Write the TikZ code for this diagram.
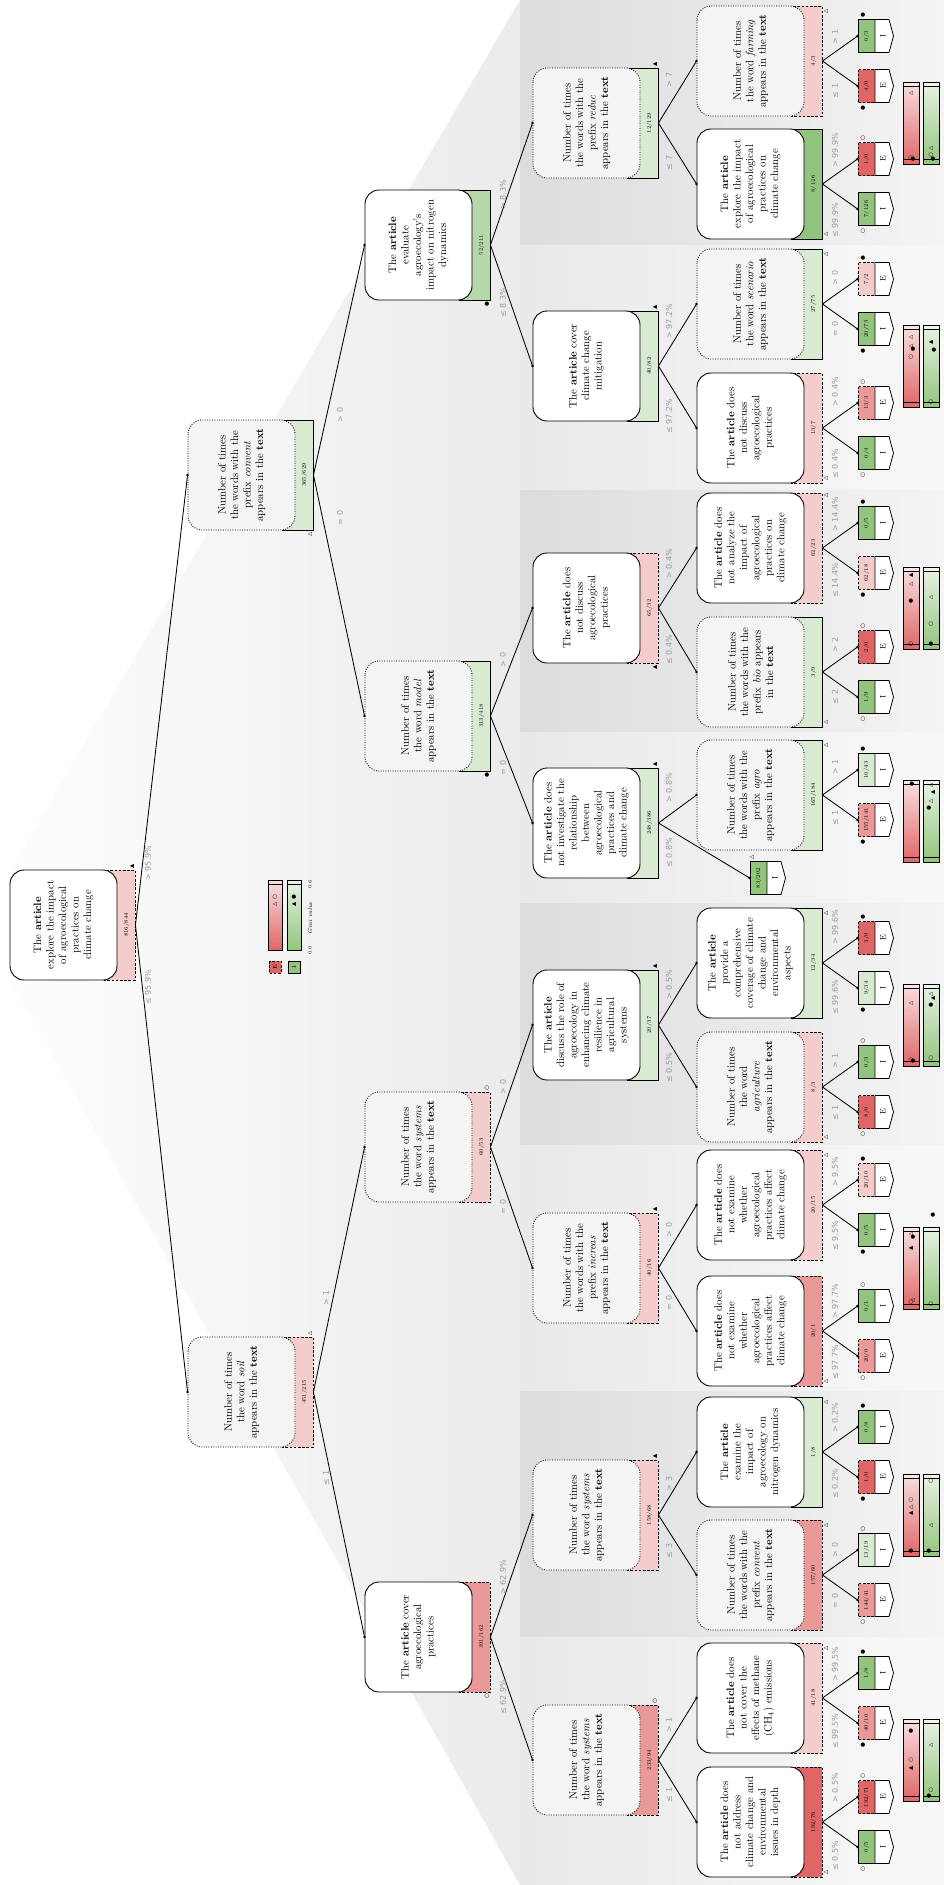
\documentclass[tikz,border=0pt]{standalone}
\usepackage{fontspec}
\newfontfamily\symf{DejaVu Sans}
\definecolor{redS}{HTML}{E06666}
\definecolor{redM}{HTML}{EA9999}
\definecolor{redL}{HTML}{F4CCCC}
\definecolor{grnS}{HTML}{93C47D}
\definecolor{grnM}{HTML}{B6D7A8}
\definecolor{grnL}{HTML}{D9EAD3}
\definecolor{lblgray}{HTML}{9A9A9A}
\definecolor{dotfill}{HTML}{F4F4F4}
\definecolor{panDa}{HTML}{DCDCDC}
\definecolor{panDb}{HTML}{F4F4F4}
\definecolor{panLa}{HTML}{E9E9E9}
\definecolor{panLb}{HTML}{F8F8F8}
\definecolor{fanA}{HTML}{FDFDFD}
\definecolor{fanB}{HTML}{EBEBEB}
\newcounter{aux}
\newcommand{\inode}[8]{%
  \node[barbox,fill=#5,#6] (#1b) at ({#2+109.5},#3) {};
  \node[#4] (#1) at ({#2+53.5},#3) {#8};
  \node[cnt] (#1c) at ({#2+116.5},#3) {#7};}
\newcommand{\leafn}[7]{%
  \node[leafc,fill=#4,#5] (#1) at ({#2+8.5},#3) {};
  \node[cnt] (#1c) at ({#2+8.5},#3) {#6};
  \draw[line width=0.8pt,fill=white] ({#2+17},{#3-16.5}) -- ({#2+31},{#3-16.5}) -- ({#2+35.5},#3) -- ({#2+31},{#3+16.5}) -- ({#2+17},{#3+16.5}) -- cycle;
  \node[rotate=90,inner sep=0pt,font=\fontsize{8}{9}\selectfont] (#1t) at ({#2+25},#3) {#7};}
\newcommand{\conn}[2]{\draw[edge] (#1b.south) -- (#2.north); \fill (#2.north) circle (1.4pt);}
\newcommand{\elab}[3]{\stepcounter{aux}\node[elabel] (el\arabic{aux}) at (#1,#2) {#3};}
\newcommand{\mkr}[3]{\stepcounter{aux}\node[mk] (mk\arabic{aux}) at (#1,#2) {#3};}
\newcommand{\TF}{▲}
\newcommand{\TO}{△}
\newcommand{\CF}{●}
\newcommand{\CO}{○}
\newcommand{\gini}[1]{%
  \shade[top color=redL!60!white, bottom color=redS] (903,{#1-41}) rectangle (919,{#1+41});
  \fill[redL!50!white] (903,{#1-41}) rectangle (919,{#1-37});
  \draw[line width=0.7pt] (903,{#1-41}) rectangle (919,{#1+41});
  \draw[line width=0.6pt] (903,{#1-37}) -- (919,{#1-37});
  \draw[line width=0.9pt] (903,{#1+36}) -- (919,{#1+36});
  \shade[top color=grnL!60!white, bottom color=grnS] (923,{#1-41}) rectangle (939,{#1+41});
  \fill[grnL!50!white] (923,{#1-41}) rectangle (939,{#1-37});
  \draw[line width=0.7pt] (923,{#1-41}) rectangle (939,{#1+41});
  \draw[line width=0.6pt] (923,{#1-37}) -- (939,{#1-37});
  \draw[line width=0.9pt] (923,{#1+36}) -- (939,{#1+36});}
\begin{document}
\begin{tikzpicture}[x=1pt,y=-1pt,
  tb/.style={rotate=90, line width=0.9pt, rounded corners=14pt, minimum width=110pt, minimum height=107pt, inner sep=2pt, align=center, font=\fontsize{10.8}{12.5}\selectfont},
  sbox/.style={tb, draw=black, fill=white},
  dbox/.style={tb, draw=black, fill=dotfill, dash pattern=on 0.9pt off 1.5pt},
  barbox/.style={rotate=90, draw=black, line width=0.9pt, minimum width=110pt, minimum height=31pt, inner sep=0pt},
  sbar/.style={solid},
  dbar/.style={dash pattern=on 2.6pt off 1.6pt},
  cnt/.style={rotate=90, inner sep=0pt, font=\fontsize{5.5}{6}\selectfont},
  leafc/.style={rotate=90, draw=black, line width=0.8pt, minimum width=33pt, minimum height=17pt, inner sep=0pt},
  edge/.style={line width=0.85pt},
  elabel/.style={rotate=90, inner sep=0pt, text=lblgray, font=\symf\fontsize{8}{9}\selectfont},
  mk/.style={rotate=90, inner sep=0pt, font=\symf\fontsize{5.5}{6}\selectfont},
]
\useasboundingbox (0,0) rectangle (944,1885);
\fill[white] (0,0) rectangle (944,1885);
% fan
\shade[left color=fanA, right color=fanB] (10,870) -- (520,0) -- (520,1885) -- (10,980) -- cycle;
% panels
\shade[left color=panDa, right color=panDb] (520,0) rectangle (944,245);
\shade[left color=panLa, right color=panLb] (520,245) rectangle (944,490);
\shade[left color=panDa, right color=panDb] (520,490) rectangle (944,732);
\shade[left color=panLa, right color=panLb] (520,732) rectangle (944,903);
\shade[left color=panDa, right color=panDb] (520,903) rectangle (944,1145);
\shade[left color=panLa, right color=panLb] (520,1145) rectangle (944,1391);
\shade[left color=panDa, right color=panDb] (520,1391) rectangle (944,1637);
\shade[left color=panLa, right color=panLb] (520,1637) rectangle (944,1885);

% level 0-2
\inode{R}{10}{925}{sbox}{redL}{dbar}{816/844}{The \textbf{article}\\explore the impact\\of agroecological\\practices on\\climate change}
\inode{A1}{188}{475}{dbox}{grnL}{sbar}{365/629}{Number of times\\the words with the\\prefix \textit{convent}\\appears in the \textbf{text}}
\inode{A2}{188}{1392}{dbox}{redL}{dbar}{451/215}{Number of times\\the word \textit{soil}\\appears in the \textbf{text}}
\inode{B1}{365}{245}{sbox}{grnM}{sbar}{52/211}{The \textbf{article}\\evaluate\\agroecology's\\impact on nitrogen\\dynamics}
\inode{B2}{365}{716}{dbox}{grnL}{sbar}{313/418}{Number of times\\the word \textit{model}\\appears in the \textbf{text}}
\inode{B3}{365}{1147}{dbox}{redL}{dbar}{60/53}{Number of times\\the word \textit{systems}\\appears in the \textbf{text}}
\inode{B4}{365}{1637}{sbox}{redM}{dbar}{391/162}{The \textbf{article} cover\\agroecological\\practices}
% level 3
\inode{P1}{533}{123}{dbox}{grnL}{sbar}{12/129}{Number of times\\the words with the\\prefix \textit{reduc}\\appears in the \textbf{text}}
\inode{P2}{533}{366}{sbox}{grnL}{sbar}{40/82}{The \textbf{article} cover\\climate change\\mitigation}
\inode{P3}{533}{608}{sbox}{redL}{dbar}{65/32}{The \textbf{article} does\\not discuss\\agroecological\\practices}
\inode{P4}{533}{823}{sbox}{grnL}{sbar}{248/386}{The \textbf{article} does\\not investigate the\\relationship\\between\\agroecological\\practices and\\climate change}
\inode{P5}{533}{1025}{sbox}{grnL}{sbar}{20/37}{The \textbf{article}\\discuss the role of\\agroecology in\\enhancing climate\\resilience in\\agricultural\\systems}
\inode{P6}{533}{1268}{dbox}{redL}{dbar}{40/16}{Number of times\\the words with the\\prefix \textit{increas}\\appears in the \textbf{text}}
\inode{P7}{533}{1515}{dbox}{redL}{dbar}{158/68}{Number of times\\the word \textit{systems}\\appears in the \textbf{text}}
\inode{P8}{533}{1760}{dbox}{redM}{dbar}{233/94}{Number of times\\the word \textit{systems}\\appears in the \textbf{text}}
% level 4
\inode{Q1}{697}{61}{dbox}{redL}{dbar}{4/3}{Number of times\\the word \textit{farming}\\appears in the \textbf{text}}
\inode{Q2}{697}{184}{sbox}{grnS}{sbar}{8/126}{The \textbf{article}\\explore the impact\\of agroecological\\practices on\\climate change}
\inode{Q3}{697}{304}{dbox}{grnL}{sbar}{27/75}{Number of times\\the word \textit{scenario}\\appears in the \textbf{text}}
\inode{Q4}{697}{428}{sbox}{redL}{dbar}{13/7}{The \textbf{article} does\\not discuss\\agroecological\\practices}
\inode{Q5}{697}{548}{sbox}{redL}{dbar}{62/23}{The \textbf{article} does\\not analyze the\\impact of\\agroecological\\practices on\\climate change}
\inode{Q6}{697}{672}{dbox}{grnL}{sbar}{3/9}{Number of times\\the words with the\\prefix \textit{bio} appears\\in the \textbf{text}}
\inode{Q7}{697}{795}{dbox}{grnL}{sbar}{165/184}{Number of times\\the words with the\\prefix \textit{agro}\\appears in the \textbf{text}}
\inode{Q8}{697}{963}{sbox}{grnL}{sbar}{12/34}{The \textbf{article}\\provide a\\comprehensive\\coverage of climate\\change and\\environmental\\aspects}
\inode{Q9}{697}{1087}{dbox}{redL}{dbar}{8/3}{Number of times\\the word\\\textit{agriculture}\\appears in the \textbf{text}}
\inode{Q10}{697}{1205}{sbox}{redL}{dbar}{20/15}{The \textbf{article} does\\not examine\\whether\\agroecological\\practices affect\\climate change}
\inode{Q11}{697}{1331}{sbox}{redM}{dbar}{20/1}{The \textbf{article} does\\not examine\\whether\\agroecological\\practices affect\\climate change}
\inode{Q12}{697}{1452}{sbox}{grnL}{sbar}{1/8}{The \textbf{article}\\examine the\\impact of\\agroecology on\\nitrogen dynamics}
\inode{Q13}{697}{1575}{dbox}{redM}{dbar}{157/60}{Number of times\\the words with the\\prefix \textit{convent}\\appears in the \textbf{text}}
\inode{Q14}{697}{1698}{sbox}{redL}{dbar}{41/18}{The \textbf{article} does\\not cover the\\effects of methane\\(CH\textsubscript{4}) emissions}
\inode{Q15}{697}{1822}{sbox}{redS}{dbar}{192/76}{The \textbf{article} does\\not address\\climate change and\\environmental\\issues in depth}
% leaves
\leafn{L1}{858}{36}{grnS}{sbar}{0/3}{I}
\leafn{L2}{858}{86}{redS}{dbar}{4/0}{E}
\leafn{L3}{858}{159}{redS}{dbar}{1/0}{E}
\leafn{L4}{858}{209}{grnS}{sbar}{7/126}{I}
\leafn{L5}{858}{279}{redL}{dbar}{7/2}{E}
\leafn{L6}{858}{329}{grnS}{sbar}{20/73}{I}
\leafn{L7}{858}{403}{redM}{dbar}{13/3}{E}
\leafn{L8}{858}{453}{grnS}{sbar}{0/4}{I}
\leafn{L9}{858}{523}{grnS}{sbar}{0/5}{I}
\leafn{L10}{858}{573}{redL}{dbar}{62/18}{E}
\leafn{L11}{858}{647}{redS}{dbar}{2/0}{E}
\leafn{L12}{858}{697}{grnS}{sbar}{1/9}{I}
\leafn{L13}{858}{770}{grnL}{sbar}{10/43}{I}
\leafn{L14}{858}{820}{redM}{dbar}{155/141}{E}
\leafn{K}{750}{878}{grnS}{sbar}{83/202}{I}
\leafn{L15}{858}{938}{redS}{dbar}{3/0}{E}
\leafn{L16}{858}{988}{grnL}{sbar}{9/34}{I}
\leafn{L17}{858}{1062}{grnS}{sbar}{0/3}{I}
\leafn{L18}{858}{1112}{redS}{dbar}{8/0}{E}
\leafn{L19}{858}{1180}{redL}{dbar}{20/10}{E}
\leafn{L20}{858}{1230}{grnS}{sbar}{0/5}{I}
\leafn{L21}{858}{1306}{grnS}{sbar}{0/1}{I}
\leafn{L22}{858}{1356}{redM}{dbar}{20/0}{E}
\leafn{L23}{858}{1427}{grnS}{sbar}{0/8}{I}
\leafn{L24}{858}{1477}{redS}{dbar}{1/0}{E}
\leafn{L25}{858}{1550}{grnL}{sbar}{13/19}{I}
\leafn{L26}{858}{1600}{redM}{dbar}{144/41}{E}
\leafn{L27}{858}{1673}{grnS}{sbar}{1/8}{I}
\leafn{L28}{858}{1723}{redM}{dbar}{40/10}{E}
\leafn{L29}{858}{1797}{redS}{dbar}{192/71}{E}
\leafn{L30}{858}{1847}{grnS}{sbar}{0/5}{I}
% connectors
\conn{R}{A1}\conn{R}{A2}
\conn{A1}{B1}\conn{A1}{B2}\conn{A2}{B3}\conn{A2}{B4}
\conn{B1}{P1}\conn{B1}{P2}\conn{B2}{P3}\conn{B2}{P4}
\conn{B3}{P5}\conn{B3}{P6}\conn{B4}{P7}\conn{B4}{P8}
\conn{P1}{Q1}\conn{P1}{Q2}\conn{P2}{Q3}\conn{P2}{Q4}
\conn{P3}{Q5}\conn{P3}{Q6}\conn{P4}{Q7}\conn{P4}{K}
\conn{P5}{Q8}\conn{P5}{Q9}\conn{P6}{Q10}\conn{P6}{Q11}
\conn{P7}{Q12}\conn{P7}{Q13}\conn{P8}{Q14}\conn{P8}{Q15}
\conn{Q1}{L1}\conn{Q1}{L2}\conn{Q2}{L3}\conn{Q2}{L4}
\conn{Q3}{L5}\conn{Q3}{L6}\conn{Q4}{L7}\conn{Q4}{L8}
\conn{Q5}{L9}\conn{Q5}{L10}\conn{Q6}{L11}\conn{Q6}{L12}
\conn{Q7}{L13}\conn{Q7}{L14}
\conn{Q8}{L15}\conn{Q8}{L16}\conn{Q9}{L17}\conn{Q9}{L18}
\conn{Q10}{L19}\conn{Q10}{L20}\conn{Q11}{L21}\conn{Q11}{L22}
\conn{Q12}{L23}\conn{Q12}{L24}\conn{Q13}{L25}\conn{Q13}{L26}
\conn{Q14}{L27}\conn{Q14}{L28}\conn{Q15}{L29}\conn{Q15}{L30}
% edge labels
\elab{148}{863}{> 95.9\%}\elab{148}{987}{≤ 95.9\%}
\elab{340}{415}{> 0}\elab{340}{518}{= 0}
\elab{326}{1298}{> 1}\elab{326}{1478}{≤ 1}
\elab{503}{195}{> 8.3\%}\elab{503}{303}{≤ 8.3\%}
\elab{503}{660}{> 0}\elab{503}{768}{= 0}
\elab{503}{1087}{> 0}\elab{503}{1207}{= 0}
\elab{503}{1577}{> 62.9\%}\elab{503}{1697}{≤ 62.9\%}
\elab{669}{80}{> 7}\elab{669}{163}{≤ 7}
\elab{669}{321}{> 97.2\%}\elab{669}{416}{≤ 97.2\%}
\elab{669}{564}{> 0.4\%}\elab{669}{650}{≤ 0.4\%}
\elab{669}{788}{> 0.8\%}\elab{669}{853}{≤ 0.8\%}
\elab{669}{985}{> 0.5\%}\elab{669}{1068}{≤ 0.5\%}
\elab{669}{1230}{> 0}\elab{669}{1303}{= 0}
\elab{669}{1484}{> 3}\elab{669}{1551}{≤ 3}
\elab{669}{1725}{> 1}\elab{669}{1795}{≤ 1}
\elab{835}{37}{> 1}\elab{835}{91}{≤ 1}
\elab{835}{150}{> 99.9\%}\elab{835}{220}{≤ 99.9\%}
\elab{835}{278}{> 0}\elab{835}{329}{= 0}
\elab{835}{392}{> 0.4\%}\elab{835}{464}{≤ 0.4\%}
\elab{835}{514}{> 14.4\%}\elab{835}{580}{≤ 14.4\%}
\elab{835}{645}{> 2}\elab{835}{697}{≤ 2}
\elab{835}{767}{> 1}\elab{835}{818}{≤ 1}
\elab{835}{927}{> 99.6\%}\elab{835}{997}{≤ 99.6\%}
\elab{835}{1061}{> 1}\elab{835}{1113}{≤ 1}
\elab{835}{1172}{> 9.5\%}\elab{835}{1236}{≤ 9.5\%}
\elab{835}{1301}{> 97.7\%}\elab{835}{1362}{≤ 97.7\%}
\elab{835}{1418}{> 0.2\%}\elab{835}{1484}{≤ 0.2\%}
\elab{835}{1550}{> 0}\elab{835}{1601}{= 0}
\elab{835}{1664}{> 99.5\%}\elab{835}{1731}{≤ 99.5\%}
\elab{835}{1788}{> 0.5\%}\elab{835}{1856}{≤ 0.5\%}
% node markers
\mkr{132}{866}{\TF}
\mkr{310}{534}{\TO}\mkr{310}{1333}{\TO}
\mkr{487}{304}{\CF}\mkr{487}{775}{\CF}\mkr{487}{1088}{\CO}\mkr{487}{1696}{\CO}
\mkr{655}{64}{\TF}\mkr{655}{307}{\TF}\mkr{655}{667}{\TF}\mkr{655}{764}{\TF}
\mkr{655}{966}{\TF}\mkr{655}{1209}{\TF}\mkr{655}{1456}{\TF}\mkr{655}{1701}{\CO}
\mkr{826}{11}{\TO}\mkr{826}{234}{\TO}\mkr{826}{254}{\TO}\mkr{826}{478}{\TO}
\mkr{826}{495}{\TO}\mkr{826}{722}{\TO}\mkr{826}{745}{\TO}\mkr{826}{913}{\TO}
\mkr{826}{1137}{\TO}\mkr{826}{1155}{\TO}\mkr{826}{1381}{\TO}\mkr{826}{1402}{\TO}
\mkr{826}{1525}{\TO}\mkr{826}{1648}{\TO}\mkr{826}{1872}{\TO}
\mkr{752}{857}{\TO}
% leaf markers
\mkr{863}{15}{\CF}\mkr{863}{108}{\CF}\mkr{863}{138}{\CO}\mkr{863}{231}{\CO}
\mkr{863}{258}{\CF}\mkr{863}{351}{\CF}\mkr{863}{382}{\CO}\mkr{863}{475}{\CO}
\mkr{863}{502}{\CF}\mkr{863}{595}{\CF}\mkr{863}{626}{\CO}\mkr{863}{719}{\CO}
\mkr{863}{749}{\CF}\mkr{863}{842}{\CF}\mkr{863}{917}{\CF}\mkr{863}{1010}{\CF}
\mkr{863}{1041}{\CO}\mkr{863}{1134}{\CO}\mkr{863}{1159}{\CF}\mkr{863}{1252}{\CF}
\mkr{863}{1285}{\CO}\mkr{863}{1378}{\CO}\mkr{863}{1406}{\CF}\mkr{863}{1499}{\CF}
\mkr{863}{1529}{\CO}\mkr{863}{1622}{\CO}\mkr{863}{1652}{\CF}\mkr{863}{1745}{\CF}
\mkr{863}{1776}{\CO}\mkr{863}{1869}{\CO}
% gini bars
\gini{123}\gini{366}\gini{608}\gini{821}\gini{1025}\gini{1268}\gini{1515}\gini{1760}
\mkr{911}{93}{\TO}\mkr{911}{158}{\CO}\mkr{913}{159}{\CF}\mkr{931}{148}{\TO}\mkr{931}{155}{\CO}\mkr{933}{159}{\CF}
\mkr{911}{337}{\TO}\mkr{911}{346}{\TO}\mkr{913}{349}{\CF}\mkr{911}{357}{\CO}\mkr{931}{342}{\TF}\mkr{934}{350}{\CF}\mkr{931}{402}{\CO}
\mkr{911}{575}{\TF}\mkr{911}{584}{\TO}\mkr{911}{601}{\CF}\mkr{911}{644}{\CO}\mkr{931}{597}{\TO}\mkr{931}{624}{\CO}\mkr{931}{644}{\CF}
\mkr{912}{784}{\CF}\mkr{931}{785}{\TO}\mkr{933}{792}{\TF}\mkr{931}{801}{\TO}\mkr{929}{808}{\CF}
\mkr{911}{1003}{\TO}\mkr{911}{1060}{\CO}\mkr{913}{1061}{\CF}\mkr{931}{994}{\TO}\mkr{933}{998}{\TF}\mkr{931}{1005}{\CF}\mkr{931}{1058}{\CO}
\mkr{911}{1234}{\TO}\mkr{913}{1237}{\CF}\mkr{911}{1248}{\TF}\mkr{911}{1302}{\CO}\mkr{913}{1300}{\TO}\mkr{931}{1304}{\CO}\mkr{933}{1215}{\CF}
\mkr{911}{1500}{\CO}\mkr{911}{1507}{\TO}\mkr{911}{1513}{\TF}\mkr{911}{1551}{\CF}\mkr{931}{1481}{\CO}\mkr{931}{1525}{\TO}\mkr{929}{1551}{\CF}
\mkr{911}{1731}{\CF}\mkr{911}{1760}{\CO}\mkr{911}{1768}{\TF}\mkr{931}{1745}{\TO}\mkr{931}{1790}{\CO}\mkr{929}{1796}{\CF}
% legend
\shade[top color=redL!60!white, bottom color=redS] (268,880) rectangle (282,950);
\draw[line width=0.7pt] (268,880) rectangle (282,950);
\draw[line width=0.6pt] (268,884) -- (282,884);
\shade[top color=grnL!60!white, bottom color=grnS] (287,880) rectangle (301,950);
\draw[line width=0.7pt] (287,880) rectangle (301,950);
\draw[line width=0.6pt] (287,884) -- (301,884);
\mkr{275}{897}{\CO}\mkr{275}{904}{\TO}\mkr{294}{897}{\CF}\mkr{294}{904}{\TF}
\node[leafc,minimum width=12pt,minimum height=12pt,fill=redS,dbar,font=\fontsize{6}{7}\selectfont] (legE) at (275,967) {E};
\node[leafc,minimum width=12pt,minimum height=12pt,fill=grnS,font=\fontsize{6}{7}\selectfont] (legI) at (294,967) {I};
\node[rotate=90,inner sep=0pt,font=\fontsize{6}{7}\selectfont\itshape] (legG) at (310,918) {Gini value};
\node[rotate=90,inner sep=0pt,font=\fontsize{5}{6}\selectfont] (leg0) at (310,950) {0.0};
\node[rotate=90,inner sep=0pt,font=\fontsize{5}{6}\selectfont] (leg6) at (310,884) {0.6};
\end{tikzpicture}
\end{document}
